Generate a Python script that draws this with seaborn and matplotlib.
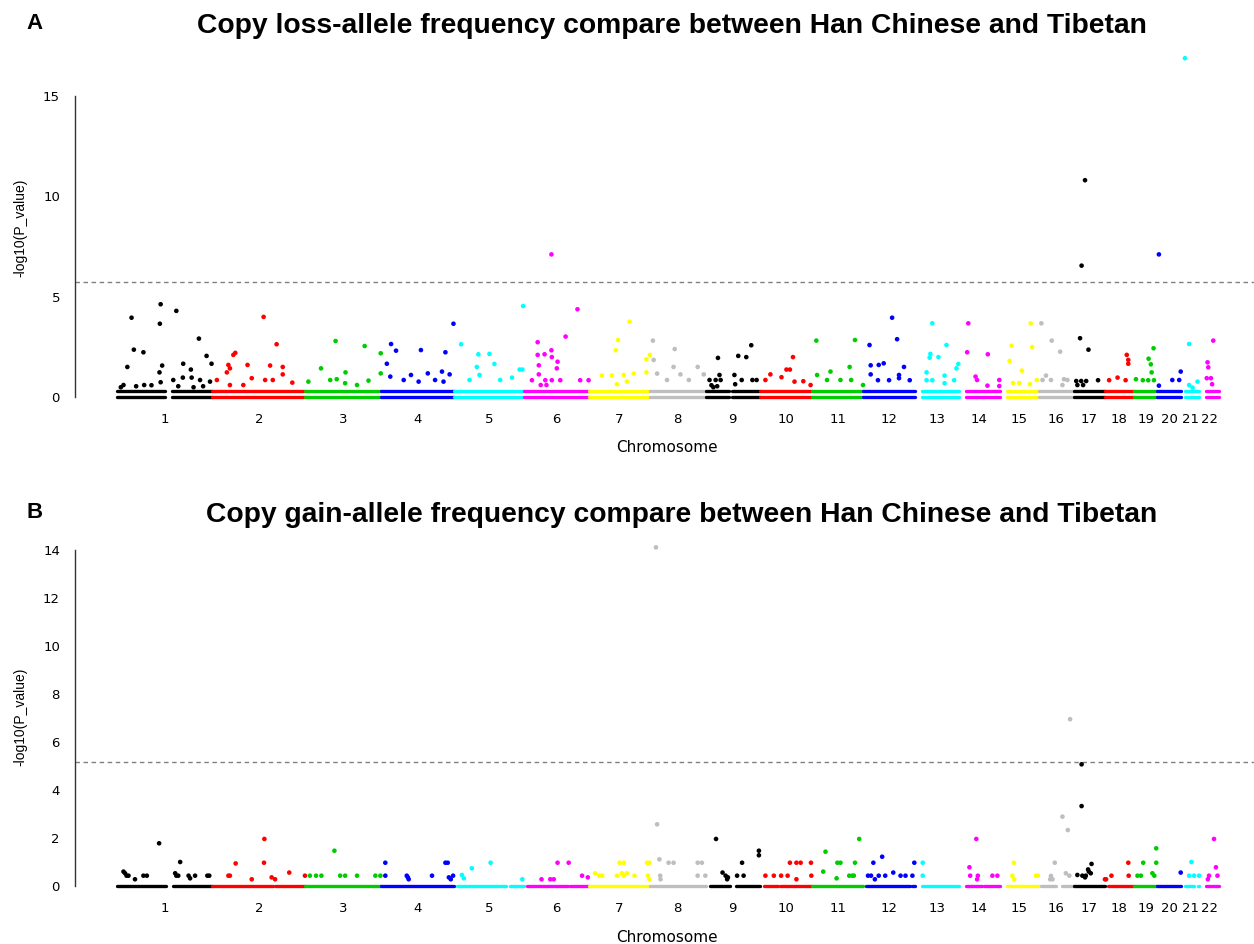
import numpy as np
import pandas as pd
import matplotlib
matplotlib.use("Agg")
import matplotlib.pyplot as plt
import seaborn as sns

# ---------------- data ----------------
chrom_names = [str(i) for i in range(1, 23)]
chrom_len_mb = [249, 243, 198, 191, 181, 171, 159, 146, 141, 136, 135, 134,
                115, 107, 103, 90, 81, 78, 59, 63, 48, 51]
r_palette = ["#000000", "#FF0000", "#00CD00", "#0000FF",
             "#00FFFF", "#FF00FF", "#FFFF00", "#BEBEBE"]

title_a = "Copy loss-allele frequency compare between Han Chinese and Tibetan"
title_b = "Copy gain-allele frequency compare between Han Chinese and Tibetan"
threshold_a = 5.72
threshold_b = 5.15
yticks_a = [0, 5, 10, 15]
yticks_b = [0, 2, 4, 6, 8, 10, 12, 14]

# Panel A (copy loss): individual points, position (Mb) and -log10(P)
loss_pos = {
    1: [10, 17, 27, 38, 44, 50, 69, 71, 90, 111, 112, 114, 114, 118, 147, 155, 160, 172, 173, 193, 195, 200, 214, 217, 225, 234, 243, 247],
    2: [12, 38, 42, 46, 46, 55, 60, 81, 92, 103, 134, 138, 151, 158, 168, 184, 184, 209],
    3: [8, 41, 65, 79, 82, 104, 105, 135, 155, 165, 197, 197],
    4: [15, 24, 26, 39, 59, 78, 98, 104, 122, 141, 159, 163, 168, 179, 189],
    5: [18, 40, 59, 63, 66, 92, 105, 120, 151, 171, 178, 180],
    6: [22, 37, 37, 40, 40, 55, 57, 73, 73, 74, 74, 87, 89, 96, 110, 141, 148, 170, 45, 60],
    7: [34, 60, 70, 73, 76, 91, 99, 106, 117, 150, 150, 159],
    8: [8, 10, 19, 45, 62, 65, 80, 102, 125, 141],
    9: [10, 15, 20, 26, 30, 32, 36, 39, 75, 77, 85, 94, 106, 119, 122, 133],
    10: [15, 28, 57, 70, 79, 87, 91, 114, 133],
    11: [12, 14, 40, 49, 75, 99, 103, 113, 134],
    12: [16, 19, 19, 38, 40, 53, 67, 75, 88, 93, 93, 106, 121],
    13: [31, 31, 39, 41, 46, 46, 62, 78, 78, 83, 103, 109, 114],
    14: [22, 25, 44, 48, 75, 76, 106, 106],
    15: [26, 31, 35, 51, 58, 79, 81, 85, 97],
    16: [6, 9, 18, 31, 33, 55, 61, 65, 74],
    17: [7, 10, 17, 20, 21, 25, 30, 33, 39, 64],
    18: [12, 34, 55, 58, 62, 62],
    19: [4, 22, 36, 37, 43, 45, 50, 51],
    20: [5, 5, 40, 58, 62],
    21: [10, 21, 21, 30, 43],
    22: [19, 21, 23, 30, 33, 36],
}
loss_val = {
    1: [0.50, 0.61, 1.51, 3.96, 2.37, 0.55, 2.24, 0.61, 0.60, 1.24, 3.66, 4.63, 0.75, 1.58, 0.86, 4.30, 0.55, 0.98, 1.67, 1.38, 0.98, 0.50, 2.92, 0.86, 0.55, 2.06, 0.78, 1.67],
    2: [0.86, 1.24, 1.61, 1.44, 0.61, 2.11, 2.21, 0.61, 1.61, 0.95, 4.00, 0.86, 1.58, 0.86, 2.64, 1.51, 1.14, 0.73],
    3: [0.78, 1.44, 0.86, 2.80, 0.90, 0.70, 1.24, 0.61, 2.55, 0.83, 2.19, 1.19],
    4: [1.67, 1.03, 2.65, 2.32, 0.86, 1.11, 0.78, 2.35, 1.19, 0.86, 1.28, 0.78, 2.24, 1.14, 3.66],
    5: [2.64, 0.86, 1.51, 2.14, 1.11, 2.16, 1.66, 0.86, 0.98, 1.38, 1.38, 4.54],
    6: [0.85, 2.74, 2.11, 1.59, 1.14, 2.14, 0.85, 7.11, 2.34, 2.00, 0.85, 1.44, 1.77, 0.85, 3.02, 4.38, 0.85, 0.85, 0.61, 0.61],
    7: [1.08, 1.08, 2.34, 0.65, 2.85, 1.11, 0.78, 3.76, 1.18, 1.24, 1.89, 2.11],
    8: [2.82, 1.86, 1.18, 0.86, 1.51, 2.40, 1.14, 0.86, 1.51, 1.14],
    9: [0.86, 0.60, 0.50, 0.86, 0.55, 1.96, 1.11, 0.86, 1.11, 0.65, 2.06, 0.86, 2.00, 2.59, 0.86, 0.86],
    10: [0.86, 1.14, 1.00, 1.38, 1.38, 2.00, 0.78, 0.80, 0.61],
    11: [2.82, 1.11, 0.86, 1.28, 0.86, 1.51, 0.86, 2.85, 0.61],
    12: [2.60, 1.59, 1.14, 0.85, 1.61, 1.69, 0.85, 3.96, 2.89, 1.11, 0.95, 1.51, 0.85],
    13: [1.24, 0.85, 1.97, 2.16, 3.68, 0.85, 2.00, 1.08, 0.70, 2.60, 0.85, 1.44, 1.66],
    14: [2.24, 3.68, 1.03, 0.86, 0.58, 2.14, 0.86, 0.56],
    15: [1.81, 2.57, 0.71, 0.71, 1.33, 0.65, 3.68, 2.50, 0.86],
    16: [3.68, 0.86, 1.08, 0.86, 2.82, 2.27, 0.61, 0.90, 0.86],
    17: [0.81, 0.61, 2.94, 0.81, 6.55, 0.61, 10.80, 0.81, 2.37, 0.85],
    18: [0.85, 0.98, 0.85, 2.11, 1.86, 1.67],
    19: [0.90, 0.85, 0.85, 1.92, 1.64, 1.24, 2.44, 0.85],
    20: [7.11, 0.58, 0.86, 0.86, 1.28],
    21: [16.87, 2.65, 0.61, 0.48, 0.78],
    22: [0.95, 1.74, 1.49, 0.95, 0.65, 2.82],
}
# dense runs of non-significant points (start, end in Mb)
loss_zero_runs = {
    1: [(0, 125), (143, 249)], 2: [(0, 243)], 3: [(0, 198)], 4: [(0, 191)],
    5: [(0, 181)], 6: [(0, 171)], 7: [(0, 159)], 8: [(0, 146)],
    9: [(0, 60), (70, 141)], 10: [(0, 136)], 11: [(0, 135)], 12: [(0, 134)],
    13: [(19, 115)], 14: [(20, 107)], 15: [(20, 103)], 16: [(0, 90)],
    17: [(0, 81)], 18: [(0, 78)], 19: [(0, 59)], 20: [(0, 63)],
    21: [(9, 48)], 22: [(16, 51)],
}
loss_low_level = 0.32  # second dense row of points in panel A

# Panel B (copy gain)
gain_pos = {
    1: [17, 21, 25, 30, 47, 69, 78, 110, 152, 155, 160, 165, 187, 191, 204, 236, 241],
    2: [42, 46, 61, 103, 135, 136, 155, 164, 201, 242],
    3: [12, 28, 42, 76, 91, 104, 135, 183, 196],
    4: [11, 11, 67, 70, 72, 133, 168, 174, 177, 182, 188],
    5: [20, 25, 46, 95, 178],
    6: [47, 70, 79, 89, 118, 153, 168],
    7: [16, 27, 35, 73, 80, 86, 91, 91, 99, 119, 152, 154, 158, 158],
    8: [16, 19, 25, 27, 28, 49, 62, 125, 125, 136, 145],
    9: [27, 44, 52, 56, 58, 82, 95, 99, 139, 139],
    10: [15, 37, 56, 73, 79, 96, 96, 107, 134, 135],
    11: [30, 36, 65, 67, 75, 98, 106, 113, 110, 124],
    12: [12, 20, 26, 30, 40, 49, 57, 78, 97, 110, 128, 133],
    13: [21, 21],
    14: [28, 30, 46, 48, 50, 88, 101],
    15: [33, 37, 38, 95, 100],
    16: [29, 31, 35, 41, 61, 70, 75, 79, 81],
    17: [10, 21, 21, 23, 32, 38, 40, 45, 47, 30],
    18: [1, 4, 18, 62, 63],
    19: [8, 17, 23, 47, 52, 57, 57],
    20: [62],
    21: [21, 27, 34, 47],
    22: [22, 25, 38, 43, 47],
}
gain_val = {
    1: [0.60, 0.53, 0.43, 0.43, 0.28, 0.43, 0.43, 1.78, 0.53, 0.43, 0.43, 1.00, 0.43, 0.32, 0.43, 0.43, 0.43],
    2: [0.43, 0.43, 0.94, 0.28, 0.97, 1.96, 0.36, 0.28, 0.56, 0.43],
    3: [0.43, 0.43, 0.43, 1.47, 0.43, 0.43, 0.43, 0.43, 0.43],
    4: [0.97, 0.43, 0.43, 0.36, 0.28, 0.43, 0.97, 0.97, 0.36, 0.28, 0.43],
    5: [0.46, 0.32, 0.74, 0.97, 0.28],
    6: [0.28, 0.28, 0.28, 0.97, 0.97, 0.43, 0.36],
    7: [0.53, 0.43, 0.43, 0.43, 0.97, 0.53, 0.97, 0.43, 0.53, 0.43, 0.97, 0.43, 0.97, 0.28],
    8: [14.11, 2.57, 1.11, 0.43, 0.28, 0.97, 0.97, 0.97, 0.43, 0.97, 0.43],
    9: [1.96, 0.56, 0.43, 0.28, 0.36, 0.43, 0.97, 0.43, 1.47, 1.28],
    10: [0.43, 0.43, 0.43, 0.43, 0.97, 0.97, 0.28, 0.97, 0.97, 0.43],
    11: [0.60, 1.43, 0.32, 0.97, 0.97, 0.43, 0.43, 0.97, 0.43, 1.96],
    12: [0.43, 0.43, 0.97, 0.28, 0.43, 1.22, 0.43, 0.56, 0.43, 0.43, 0.43, 0.97],
    13: [0.97, 0.43],
    14: [0.78, 0.43, 1.96, 0.28, 0.43, 0.43, 0.43],
    15: [0.43, 0.97, 0.28, 0.43, 0.43],
    16: [0.28, 0.42, 0.28, 0.97, 2.89, 0.53, 2.33, 0.43, 6.95],
    17: [0.46, 5.07, 3.33, 0.43, 0.43, 0.69, 0.60, 0.53, 0.92, 0.36],
    18: [0.28, 0.28, 0.43, 0.97, 0.43],
    19: [0.43, 0.43, 0.97, 0.53, 0.43, 0.97, 1.57],
    20: [0.56],
    21: [0.43, 1.00, 0.43, 0.43],
    22: [0.28, 0.43, 1.96, 0.78, 0.43],
}
gain_zero_runs = {
    1: [(0, 128), (146, 248)], 2: [(0, 159), (165, 243)], 3: [(0, 198)],
    4: [(0, 191)], 5: [(7, 136), (145, 181)], 6: [(9, 115), (121, 171)],
    7: [(0, 159)], 8: [(0, 146)], 9: [(12, 64), (78, 141)],
    10: [(11, 48), (54, 136)], 11: [(0, 135)], 12: [(8, 123), (128, 134)],
    13: [(19, 115)], 14: [(20, 62), (66, 107)], 15: [(20, 75), (80, 103)],
    16: [(5, 44), (59, 90)], 17: [(0, 81)], 18: [(8, 78)], 19: [(0, 59)],
    20: [(0, 63)], 21: [(9, 34), (44, 48)], 22: [(16, 51)],
}

# ---------------- drawing ----------------
sns.set_style("white")
plt.rcParams["font.family"] = ["DejaVu Sans"]
plt.rcParams["text.color"] = "black"
plt.rcParams["axes.labelcolor"] = "black"
plt.rcParams["xtick.color"] = "black"
plt.rcParams["ytick.color"] = "black"

offsets = np.concatenate([[0], np.cumsum(chrom_len_mb)[:-1]])
total = float(np.sum(chrom_len_mb))
chrom_color = {i + 1: r_palette[i % 8] for i in range(22)}
mids = offsets + np.array(chrom_len_mb) / 2.0

W, H = 1254, 944
fig = plt.figure(figsize=(W / 100, H / 100), dpi=100)

PX_PER_MB = 1102.0 / total
X0_PX = 117.0
AX_LEFT_PX = 75.0
xlim = ((AX_LEFT_PX - X0_PX) / PX_PER_MB, (W - X0_PX) / PX_PER_MB)


def to_frame(pos, val):
    rows = []
    for c in range(1, 23):
        for p, v in zip(pos[c], val[c]):
            rows.append((c, offsets[c - 1] + p, v))
    return pd.DataFrame(rows, columns=["chrom", "cum", "val"])


def draw_panel(ax, pos, val, runs, levels, yticks, thr):
    for c in range(1, 23):
        for (s, e) in runs[c]:
            for lev in levels:
                ax.plot([offsets[c - 1] + s, offsets[c - 1] + e], [lev, lev],
                        color=chrom_color[c], lw=2.4, solid_capstyle="round",
                        zorder=2)
    df = to_frame(pos, val)
    sns.scatterplot(data=df, x="cum", y="val", hue="chrom", palette=chrom_color,
                    s=11, linewidth=0, legend=False, ax=ax, zorder=3)
    ax.axhline(thr, color="#808080", lw=1.0, dashes=(3.2, 2.6), zorder=1)
    ax.set_xlim(*xlim)
    ax.set_xticks(mids)
    ax.set_xticklabels(chrom_names)
    ax.set_yticks(yticks)
    ax.set_yticklabels([str(t) for t in yticks])
    for side in ["top", "right", "bottom"]:
        ax.spines[side].set_visible(False)
    ax.spines["left"].set_bounds(yticks[0], yticks[-1])
    ax.spines["left"].set_color("#333333")
    ax.spines["left"].set_linewidth(1.0)
    ax.tick_params(axis="y", direction="out", length=5.8, width=1.0,
                   color="#333333", pad=5.0, labelsize=9.5, labelcolor="black")
    ax.tick_params(axis="x", length=0, pad=1.5, labelsize=9.5, labelcolor="black")
    ax.set_ylabel("-log10(P_value)", family=["Liberation Sans", "DejaVu Sans"],
                  fontsize=10, color="black")
    ax.set_xlabel("Chromosome", fontsize=11, color="black")
    ax.grid(False)


# panel A geometry: y0 at 397.3 px, 20.1 px / unit
a_bottom_px, a_top_px = 411.0, 44.6
axA = fig.add_axes([AX_LEFT_PX / W, 1 - a_bottom_px / H,
                    (W - AX_LEFT_PX) / W, (a_bottom_px - a_top_px) / H])
draw_panel(axA, loss_pos, loss_val, loss_zero_runs, [0.0, loss_low_level],
           yticks_a, threshold_a)
axA.set_ylim((397.3 - a_bottom_px) / 20.1, (397.3 - a_top_px) / 20.1)

# panel B geometry: y0 at 886 px, 24 px / unit
b_bottom_px, b_top_px = 899.5, 534.0
axB = fig.add_axes([AX_LEFT_PX / W, 1 - b_bottom_px / H,
                    (W - AX_LEFT_PX) / W, (b_bottom_px - b_top_px) / H])
draw_panel(axB, gain_pos, gain_val, gain_zero_runs, [0.0], yticks_b, threshold_b)
axB.set_ylim((886 - b_bottom_px) / 24.0, (886 - b_top_px) / 24.0)

for ax, bot, top, xl_px in [(axA, a_bottom_px, a_top_px, 448),
                            (axB, b_bottom_px, b_top_px, 937.5)]:
    hpx = bot - top
    ax.yaxis.set_label_coords((20 - AX_LEFT_PX) / (W - AX_LEFT_PX), 0.5)
    ax.yaxis.label.set_va("center")
    ax.xaxis.set_label_coords((667 - AX_LEFT_PX) / (W - AX_LEFT_PX),
                              -(xl_px - bot) / hpx)
    ax.xaxis.label.set_va("center")

bold = dict(family=["Liberation Sans", "DejaVu Sans"], fontweight="bold",
            color="black")
fig.text(672 / W, 1 - 32.7 / H, title_a, ha="center", va="baseline",
         fontsize=20.3, **bold)
fig.text(682 / W, 1 - 521.7 / H, title_b, ha="center", va="baseline",
         fontsize=20.3, **bold)
fig.text(26 / W, 1 - 29.3 / H, "A", ha="left", va="baseline", fontsize=16, **bold)
fig.text(26 / W, 1 - 518.3 / H, "B", ha="left", va="baseline", fontsize=16, **bold)

fig.savefig("out.png", dpi=100)
